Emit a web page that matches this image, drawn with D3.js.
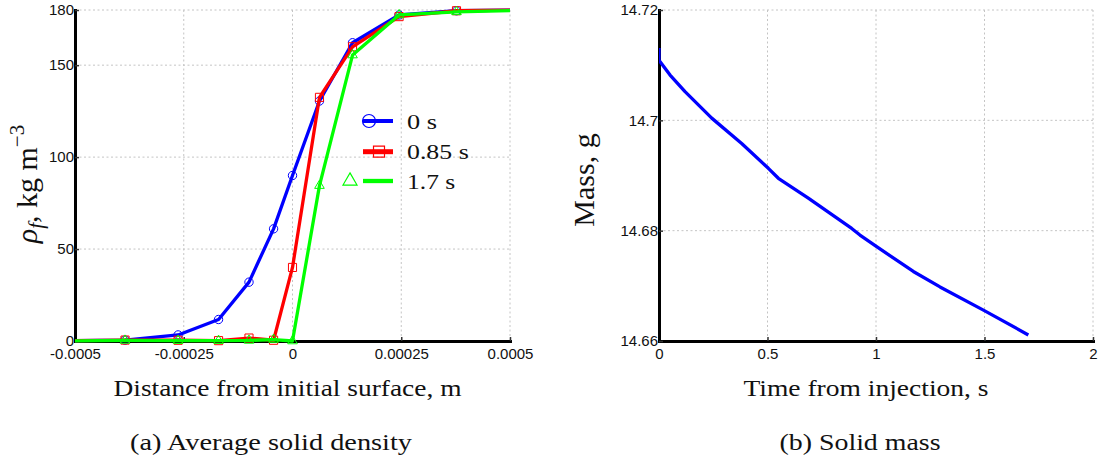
<!DOCTYPE html>
<html>
<head>
<meta charset="utf-8">
<script src="https://cdn.jsdelivr.net/npm/d3@7"></script>
<style>
  html, body { margin: 0; padding: 0; background: #fff; }
  svg { display: block; }
</style>
</head>
<body>
<svg id="fig" width="1100" height="457"></svg>
<script>
// ---- (a) average solid density profiles ----
// distance from initial surface (m); the outermost nodes lie just outside the axis range
const distance = [-0.00055, -0.000385, -0.000263, -0.00017, -0.0001, -0.0000435, 0,
                  0.000062, 0.000138, 0.000245, 0.000377, 0.00055];
const density0s   = [0, 0.5, 3.3, 11.7, 32, 61, 90, 130.5, 162.2, 177.3, 179.6, 180];
const density085s = [0, 0.5, 0.4, 0.2, 1.6, 0.4, 40, 132.5, 160, 176.4, 179.6, 180];
const density17s  = [0, 0.3, 0.2, 0.2, 0.3, 0.8, 0, 84.5, 155.5, 177.3, 179, 180];
const seriesNames = ["0 s", "0.85 s", "1.7 s"];

const distTicks = [-0.0005, -0.00025, 0, 0.00025, 0.0005];
const distTickLabels = ["-0.0005", "-0.00025", "0", "0.00025", "0.0005"];
const rhoTicks = [0, 50, 100, 150, 180];
const rhoTickLabels = ["0", "50", "100", "150", "180"];

// ---- (b) solid mass history ----
const timeS = [0, 0, 0.051, 0.12, 0.243, 0.381, 0.504, 0.55, 0.688, 0.888, 0.926,
               1.003, 1.172, 1.295, 1.495, 1.702];
const massG = [14.7131, 14.7109, 14.7082, 14.7052, 14.7004, 14.6958, 14.6913, 14.6895,
               14.6859, 14.6804, 14.6792, 14.6771, 14.6726, 14.6698, 14.6656, 14.6611];
const timeTicks = [0, 0.5, 1, 1.5, 2];
const timeTickLabels = ["0", "0.5", "1", "1.5", "2"];
const massTicks = [14.66, 14.68, 14.70, 14.72];
const massTickLabels = ["14.66", "14.68", "14.7", "14.72"];

const SANS = "'Liberation Sans', Arial, Helvetica, sans-serif";
const SERIF = "'Liberation Serif', 'Times New Roman', Times, serif";

const svg = d3.select("#fig");

function serifText(sel) {
  return sel.append("text").style("font-family", SERIF).attr("fill", "#111");
}

function makePanel(o) {
  const x = d3.scaleLinear().domain(o.xDomain).range([o.left, o.right]);
  const y = d3.scaleLinear().domain(o.yDomain).range([o.bottom, o.top]);
  const g = svg.append("g");

  // dotted grid
  const grid = g.append("g").attr("stroke", "#c4c4c4").attr("stroke-width", 1)
    .attr("stroke-dasharray", "2,2.5").attr("fill", "none");
  grid.selectAll("line.gx").data(o.xTicks).join("line")
    .attr("x1", d => x(d)).attr("x2", d => x(d)).attr("y1", o.top).attr("y2", o.bottom);
  grid.selectAll("line.gy").data(o.yTicks).join("line")
    .attr("y1", d => y(d)).attr("y2", d => y(d)).attr("x1", o.left).attr("x2", o.right);

  // axes with inward ticks
  const ax = g.append("g").attr("transform", `translate(0,${o.bottom})`)
    .call(d3.axisBottom(x).tickValues(o.xTicks).tickFormat((d, i) => o.xLabels[i])
      .tickSizeInner(-4).tickSizeOuter(0).tickPadding(7));
  const ay = g.append("g").attr("transform", `translate(${o.left},0)`)
    .call(d3.axisLeft(y).tickValues(o.yTicks).tickFormat((d, i) => o.yLabels[i])
      .tickSizeInner(-4).tickSizeOuter(0).tickPadding(1));
  [ax, ay].forEach(a => {
    a.attr("font-family", null).attr("font-size", null);
    a.select(".domain").attr("stroke", "#000").attr("stroke-width", 3).attr("stroke-linecap", "square");
    a.selectAll(".tick line").attr("stroke", "#333").attr("stroke-width", 1.5);
    a.selectAll(".tick text").style("font-family", SANS).style("font-size", "15px").attr("fill", "#111");
  });

  const clipId = "clip" + Math.round(o.left);
  svg.append("clipPath").attr("id", clipId).append("rect")
    .attr("x", o.left).attr("y", o.top - 8).attr("width", o.right - o.left).attr("height", o.bottom - o.top + 16);
  const plot = svg.append("g").attr("clip-path", `url(#${clipId})`);
  return { x, y, plot };
}

// ---------- panel (a) ----------
const pa = makePanel({
  left: 75, right: 510, top: 10, bottom: 341,
  xDomain: [-0.0005, 0.0005], yDomain: [0, 180],
  xTicks: distTicks, xLabels: distTickLabels, yTicks: rhoTicks, yLabels: rhoTickLabels
});

const seriesA = [
  { values: density0s,   color: "#0000ff", symbol: d3.symbolCircle,   size: 55 },
  { values: density085s, color: "#ff0000", symbol: d3.symbolSquare,   size: 66 },
  { values: density17s,  color: "#00ff00", symbol: d3.symbolTriangle, size: 40 }
];

const lineA = d3.line().x((d, i) => pa.x(distance[i])).y(d => pa.y(d));
seriesA.forEach(s => {
  pa.plot.append("path").datum(s.values).attr("d", lineA)
    .attr("fill", "none").attr("stroke", s.color).attr("stroke-width", 3.3)
    .attr("stroke-linejoin", "round");
  pa.plot.selectAll(null).data(s.values).join("path")
    .attr("transform", (d, i) => `translate(${pa.x(distance[i])},${pa.y(d)})`)
    .attr("d", d3.symbol().type(s.symbol).size(s.size))
    .attr("fill", "none").attr("stroke", s.color).attr("stroke-width", 1);
});

// legend
const legendRows = [
  { y: 121,   markX: 369, size: 133, lw: 4,   textLen: 30 },
  { y: 151.7, markX: 379, size: 121, lw: 5,   textLen: 61.7 },
  { y: 181,   markX: 350, size: 85,  lw: 4.3, textLen: 48.3 }
];
const legend = svg.append("g");
seriesA.forEach((s, i) => {
  const r = legendRows[i];
  legend.append("line").attr("x1", 363).attr("x2", 393).attr("y1", r.y).attr("y2", r.y)
    .attr("stroke", s.color).attr("stroke-width", r.lw);
  legend.append("path").attr("transform", `translate(${r.markX},${r.y})`)
    .attr("d", d3.symbol().type(s.symbol).size(r.size))
    .attr("fill", "none").attr("stroke", s.color).attr("stroke-width", 1.2);
  serifText(legend).attr("x", 407).attr("y", r.y + 7.5)
    .style("font-size", "21px").attr("textLength", r.textLen).attr("lengthAdjust", "spacingAndGlyphs")
    .text(seriesNames[i]);
});

// axis titles (a)
const yLabA = serifText(svg).style("font-size", "30px")
  .attr("text-anchor", "middle").attr("transform", "translate(37,184) rotate(-90)");
yLabA.append("tspan").style("font-style", "italic").text("ρ");
yLabA.append("tspan").style("font-style", "italic").style("font-size", "21px").attr("dy", 6).text("f");
yLabA.append("tspan").attr("dy", -6).text(", kg m");
yLabA.append("tspan").style("font-size", "21px").attr("dy", -13).text("−3");

serifText(svg).style("font-size", "23.5px").attr("text-anchor", "middle")
  .attr("x", 287.5).attr("y", 395.5).attr("textLength", 348).attr("lengthAdjust", "spacingAndGlyphs")
  .text("Distance from initial surface, m");
serifText(svg).style("font-size", "23.5px").attr("text-anchor", "middle")
  .attr("x", 271).attr("y", 450).attr("textLength", 282).attr("lengthAdjust", "spacingAndGlyphs")
  .text("(a) Average solid density");

// ---------- panel (b) ----------
const pb = makePanel({
  left: 659, right: 1093, top: 10, bottom: 341,
  xDomain: [0, 2], yDomain: [14.66, 14.72],
  xTicks: timeTicks, xLabels: timeTickLabels, yTicks: massTicks, yLabels: massTickLabels
});

const lineB = d3.line().x((d, i) => pb.x(timeS[i])).y(d => pb.y(d));
pb.plot.append("path").datum(massG).attr("d", lineB)
  .attr("fill", "none").attr("stroke", "#0000ff").attr("stroke-width", 3.3)
  .attr("stroke-linejoin", "round");

serifText(svg).style("font-size", "30px").attr("text-anchor", "middle")
  .attr("transform", "translate(594,180) rotate(-90)").text("Mass, g");
serifText(svg).style("font-size", "23.5px").attr("text-anchor", "middle")
  .attr("x", 866).attr("y", 395.5).attr("textLength", 245).attr("lengthAdjust", "spacingAndGlyphs")
  .text("Time from injection, s");
serifText(svg).style("font-size", "23.5px").attr("text-anchor", "middle")
  .attr("x", 860).attr("y", 450).attr("textLength", 161).attr("lengthAdjust", "spacingAndGlyphs")
  .text("(b) Solid mass");
</script>
</body>
</html>
